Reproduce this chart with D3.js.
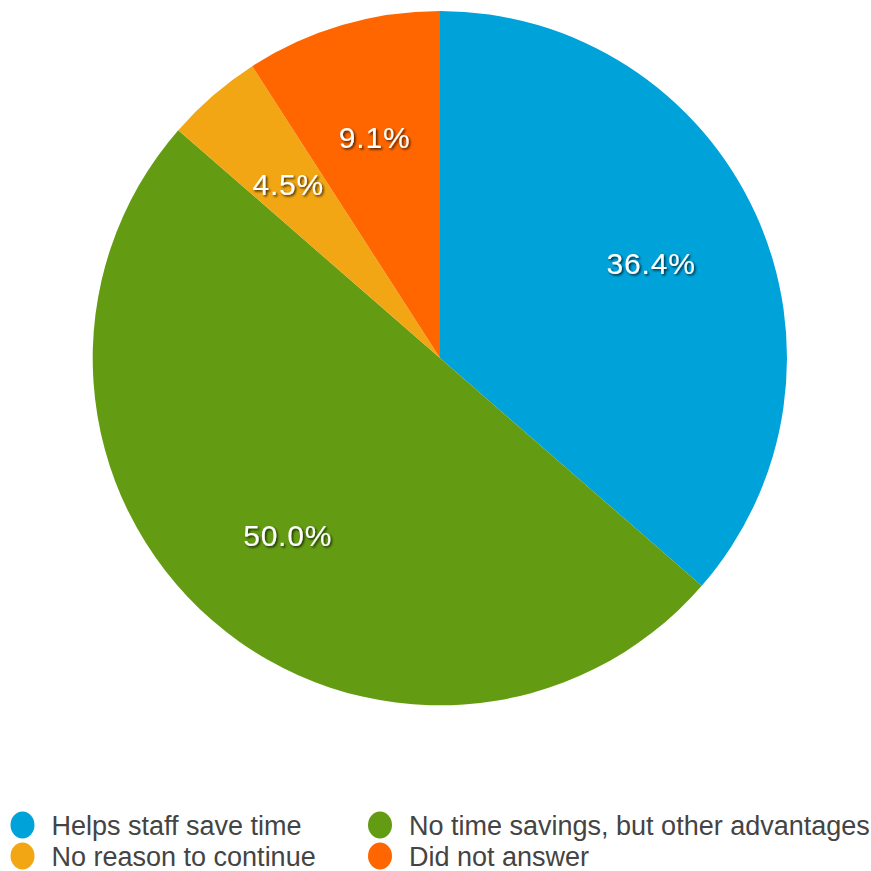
<!DOCTYPE html>
<html>
<head>
<meta charset="utf-8">
<script src="https://cdn.jsdelivr.net/npm/d3@7"></script>
<style>
  html, body { margin: 0; padding: 0; background: #fff; }
  svg { display: block; }
</style>
</head>
<body>
<svg id="chart" width="871" height="871"></svg>
<script>
// Survey responses, in drawing order (clockwise from 12 o'clock)
const categories = ["Helps staff save time", "No time savings, but other advantages", "No reason to continue", "Did not answer"];
const values = [36.4, 50.0, 4.5, 9.1];
const colors = ["#00a2da", "#639c12", "#f2a613", "#ff6600"];

// Legend order (two rows, two columns)
const legendOrder = [0, 1, 2, 3];

const svg = d3.select("#chart");
const cx = 440, cy = 358, R = 347, labelR = 232;

const defs = svg.append("defs");
const shadow = defs.append("filter").attr("id", "txtShadow")
  .attr("x", "-20%").attr("y", "-30%").attr("width", "140%").attr("height", "160%");
shadow.append("feDropShadow").attr("dx", 1.5).attr("dy", 1.5).attr("stdDeviation", 1.3)
  .attr("flood-color", "#000").attr("flood-opacity", 0.75);

const data = categories.map((c, i) => ({ name: c, value: values[i], color: colors[i] }));

const pie = d3.pie().sort(null).value(d => d.value);
const arc = d3.arc().innerRadius(0).outerRadius(R);
const labelArc = d3.arc().innerRadius(labelR).outerRadius(labelR);

const g = svg.append("g").attr("transform", `translate(${cx},${cy})`);
const arcs = pie(data);

g.selectAll("path.slice").data(arcs).join("path")
  .attr("class", "slice")
  .attr("d", arc)
  .attr("fill", d => d.data.color);

g.selectAll("text.pct").data(arcs).join("text")
  .attr("class", "pct")
  .attr("transform", d => `translate(${labelArc.centroid(d)})`)
  .attr("text-anchor", "middle")
  .attr("dy", "0.42em")
  .attr("fill", "#fff")
  .attr("filter", "url(#txtShadow)")
  .style("font-family", "'Liberation Sans', Arial, sans-serif")
  .style("font-size", "30px")
  .style("letter-spacing", "0.8px")
  .text(d => d.data.value.toFixed(1) + "%");

// Legend
const legend = svg.append("g");
const colX = [22.5, 380], rowY = [825, 856];
legendOrder.forEach((idx, k) => {
  const col = k % 2, row = Math.floor(k / 2);
  const item = legend.append("g").attr("transform", `translate(${colX[col]},${rowY[row]})`);
  item.append("ellipse").attr("rx", 12).attr("ry", 13.5).attr("fill", colors[idx]);
  item.append("text")
    .attr("x", 29).attr("dy", "0.36em")
    .attr("fill", "#444")
    .style("font-family", "'Liberation Sans', Arial, sans-serif")
    .style("font-size", "27px")
    .text(categories[idx]);
});
</script>
</body>
</html>
